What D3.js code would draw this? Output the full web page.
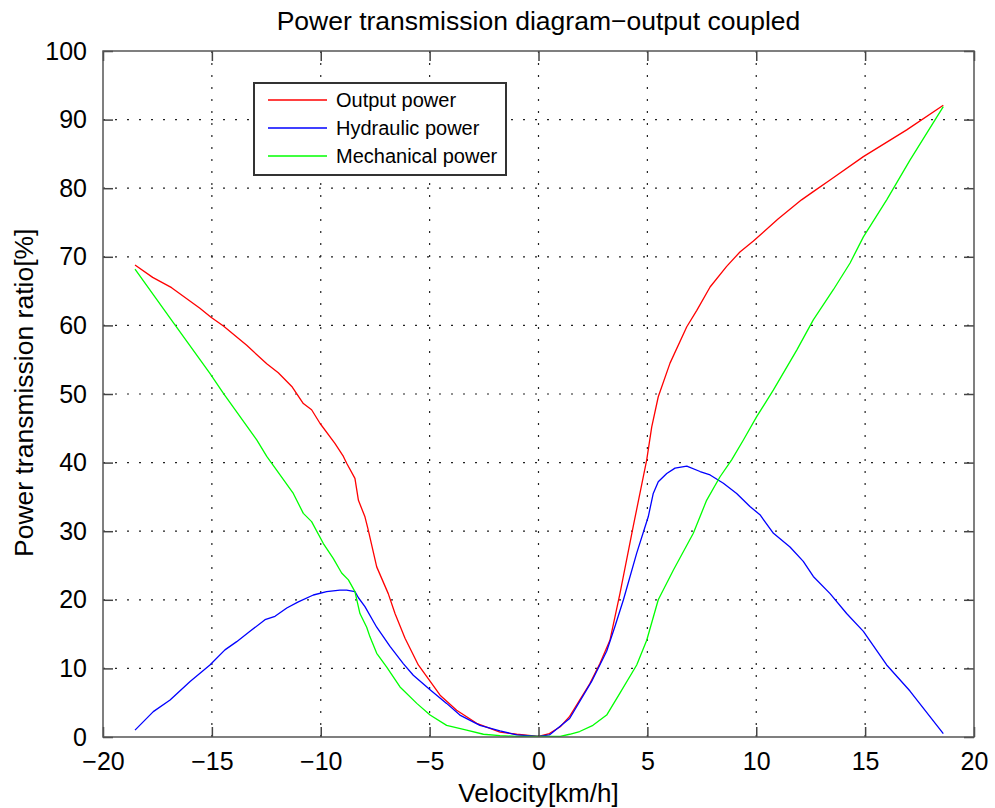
<!DOCTYPE html>
<html>
<head>
<meta charset="utf-8">
<script src="https://cdn.jsdelivr.net/npm/d3@7"></script>
<style>
  body { margin: 0; background: #fff; }
  text { font-family: "Liberation Sans", Arial, sans-serif; fill: #000; }
</style>
</head>
<body>
<svg id="chart" width="995" height="808"></svg>
<script>
// Series data (velocity in km/h, ratio in %)
const outputVel = [-18.53, -17.72, -16.85, -15.55, -15.04, -14.47, -13.40, -12.48, -11.95, -11.33, -10.80, -10.42, -10.03, -9.35, -8.96, -8.81, -8.43, -8.27, -7.97, -7.82, -7.43, -6.90, -6.59, -6.13, -5.52, -5.13, -4.52, -3.76, -2.84, -1.77, -1.0, 0.0, 0.5, 1.0, 1.43, 2.36, 2.82, 3.28, 3.74, 4.35, 4.97, 5.20, 5.50, 6.04, 6.81, 7.27, 7.88, 8.64, 9.25, 9.87, 11.0, 12.08, 12.62, 13.39, 14.92, 16.91, 18.59];
const outputPow = [68.8, 67.0, 65.5, 62.5, 61.2, 59.9, 57.1, 54.4, 53.1, 51.1, 48.6, 47.7, 45.7, 42.8, 40.9, 39.9, 37.7, 34.5, 32.1, 30.2, 24.8, 20.9, 18.0, 14.4, 10.5, 8.8, 6.1, 3.9, 2.0, 0.7, 0.4, 0.1, 0.5, 1.5, 3.0, 7.8, 10.7, 14.1, 20.9, 30.7, 40.4, 45.2, 49.6, 54.5, 59.8, 62.2, 65.6, 68.6, 70.7, 72.3, 75.5, 78.3, 79.5, 81.2, 84.6, 88.5, 92.1];

const hydraulicVel = [-18.53, -17.69, -16.92, -16.0, -15.09, -14.40, -13.86, -13.25, -12.56, -12.10, -11.56, -11.03, -10.34, -9.73, -9.12, -8.81, -8.43, -8.27, -7.97, -7.43, -6.82, -6.21, -5.75, -4.98, -4.22, -3.61, -2.69, -1.77, -1.0, 0.0, 0.5, 1.43, 2.44, 3.13, 3.51, 3.90, 4.51, 5.04, 5.27, 5.50, 5.89, 6.27, 6.81, 7.42, 7.88, 8.49, 9.10, 9.71, 10.17, 10.79, 11.55, 12.16, 12.62, 13.39, 14.15, 14.92, 15.99, 17.06, 18.59];
const hydraulicPow = [1.0, 3.7, 5.4, 8.1, 10.5, 12.7, 13.9, 15.4, 17.1, 17.6, 18.8, 19.7, 20.7, 21.2, 21.4, 21.4, 21.2, 20.3, 19.0, 16.0, 13.2, 10.7, 9.0, 6.9, 4.9, 3.2, 1.7, 0.9, 0.3, 0.1, 0.3, 2.7, 8.1, 12.5, 16.1, 20.0, 26.8, 32.1, 35.5, 37.2, 38.4, 39.2, 39.5, 38.7, 38.2, 37.0, 35.5, 33.6, 32.4, 29.7, 27.7, 25.6, 23.4, 20.9, 18.0, 15.4, 10.5, 6.7, 0.5];

const mechanicalVel = [-18.53, -16.77, -15.09, -14.47, -12.94, -12.48, -11.26, -10.80, -10.42, -9.88, -9.42, -9.04, -8.73, -8.43, -8.20, -7.89, -7.74, -7.43, -6.97, -6.36, -5.59, -4.98, -4.22, -3.30, -2.53, -1.77, -1.0, 0.0, 1.0, 1.43, 1.89, 2.5, 3.13, 3.74, 4.51, 4.97, 5.50, 6.19, 7.11, 7.72, 8.33, 8.87, 9.41, 10.02, 10.79, 11.86, 12.62, 13.54, 14.31, 14.92, 15.99, 17.06, 18.59];
const mechanicalPow = [68.2, 60.4, 53.0, 50.1, 43.3, 40.9, 35.5, 32.6, 31.4, 28.2, 26.0, 23.9, 22.9, 21.2, 18.0, 16.0, 14.6, 12.2, 10.2, 7.3, 4.9, 3.2, 1.7, 1.0, 0.4, 0.2, 0.1, 0.1, 0.1, 0.4, 0.8, 1.7, 3.2, 6.4, 10.5, 14.1, 20.0, 24.3, 29.7, 34.5, 37.9, 40.4, 43.3, 46.7, 50.6, 56.4, 60.8, 65.2, 69.1, 72.9, 78.3, 84.1, 91.9];

const seriesNames = ['Output power', 'Hydraulic power', 'Mechanical power'];
const seriesColors = ['#ff0000', '#0000ff', '#00ff00'];
const xTicks = [-20, -15, -10, -5, 0, 5, 10, 15, 20];
const yTicks = [0, 10, 20, 30, 40, 50, 60, 70, 80, 90, 100];

const series = [
    { name: seriesNames[0], color: seriesColors[0], pts: outputVel.map((v, i) => [v, outputPow[i]]) },
    { name: seriesNames[1], color: seriesColors[1], pts: hydraulicVel.map((v, i) => [v, hydraulicPow[i]]) },
    { name: seriesNames[2], color: seriesColors[2], pts: mechanicalVel.map((v, i) => [v, mechanicalPow[i]]) }
];

const svg = d3.select('#chart');
const margin = { top: 51, right: 21, bottom: 71, left: 103 };
const width = +svg.attr('width') - margin.left - margin.right;
const height = +svg.attr('height') - margin.top - margin.bottom;

const x = d3.scaleLinear().domain([-20, 20]).range([0, width]);
const y = d3.scaleLinear().domain([0, 100]).range([height, 0]);

const g = svg.append('g').attr('transform', `translate(${margin.left},${margin.top})`);

// Dotted grid
g.append('g')
    .selectAll('line')
    .data(xTicks.slice(1, -1))
    .join('line')
    .attr('x1', d => x(d)).attr('x2', d => x(d))
    .attr('y1', 0).attr('y2', height)
    .attr('stroke', '#222').attr('stroke-width', 1.2)
    .attr('stroke-dasharray', '2,10');
g.append('g')
    .selectAll('line')
    .data(yTicks.slice(1, -1))
    .join('line')
    .attr('y1', d => y(d)).attr('y2', d => y(d))
    .attr('x1', 0).attr('x2', width)
    .attr('stroke', '#222').attr('stroke-width', 1.2)
    .attr('stroke-dasharray', '2,10');

// Curves
const line = d3.line().x(d => x(d[0])).y(d => y(d[1]));
g.selectAll('.curve')
    .data(series)
    .join('path')
    .attr('class', 'curve')
    .attr('d', d => line(d.pts))
    .attr('fill', 'none')
    .attr('stroke', d => d.color)
    .attr('stroke-width', 1.3)
    .attr('stroke-linejoin', 'round');

// Axes with inward ticks on all four sides
function styleAxis(sel) {
    sel.select('.domain').remove();
    sel.selectAll('.tick line').attr('stroke', '#444').attr('stroke-width', 1.5);
    sel.selectAll('text').style('font-size', '25px').attr('fill', '#000');
}
g.append('g')
    .attr('transform', `translate(0,${height})`)
    .call(d3.axisBottom(x).tickValues(xTicks).tickSize(-10).tickPadding(15).tickFormat(d => d < 0 ? '\u2212' + Math.abs(d) : d))
    .call(styleAxis);
g.append('g')
    .call(d3.axisTop(x).tickValues(xTicks).tickSize(-10).tickFormat(''))
    .call(styleAxis);
g.append('g')
    .call(d3.axisLeft(y).tickValues(yTicks).tickSize(-10).tickPadding(16))
    .call(styleAxis);
g.append('g')
    .attr('transform', `translate(${width},0)`)
    .call(d3.axisRight(y).tickValues(yTicks).tickSize(-10).tickFormat(''))
    .call(styleAxis);

// Frame
g.append('rect')
    .attr('width', width).attr('height', height)
    .attr('fill', 'none').attr('stroke', '#555').attr('stroke-width', 1.5);

// Legend
const legend = g.append('g').attr('transform', `translate(${254 - margin.left},${83 - margin.top})`);
legend.append('rect')
    .attr('width', 252).attr('height', 92)
    .attr('fill', '#fff').attr('stroke', '#333').attr('stroke-width', 2);
const items = legend.selectAll('.item')
    .data(series)
    .join('g')
    .attr('class', 'item')
    .attr('transform', (d, i) => `translate(0,${17 + i * 28})`);
items.append('line')
    .attr('x1', 14).attr('x2', 73)
    .attr('stroke', d => d.color).attr('stroke-width', 1.5);
items.append('text')
    .attr('x', 82).attr('dy', '0.35em')
    .style('font-size', '20px')
    .text(d => d.name);

// Title and axis labels
svg.append('text')
    .attr('x', margin.left + width / 2).attr('y', 30)
    .attr('text-anchor', 'middle')
    .style('font-size', '26.5px')
    .text('Power transmission diagram\u2212output coupled');
svg.append('text')
    .attr('x', margin.left + width / 2).attr('y', 802)
    .attr('text-anchor', 'middle')
    .style('font-size', '26px')
    .text('Velocity[km/h]');
svg.append('text')
    .attr('transform', 'translate(33,557) rotate(-90)')
    .attr('text-anchor', 'start')
    .style('font-size', '26.5px')
    .text('Power transmission ratio[%]');
</script>
</body>
</html>
